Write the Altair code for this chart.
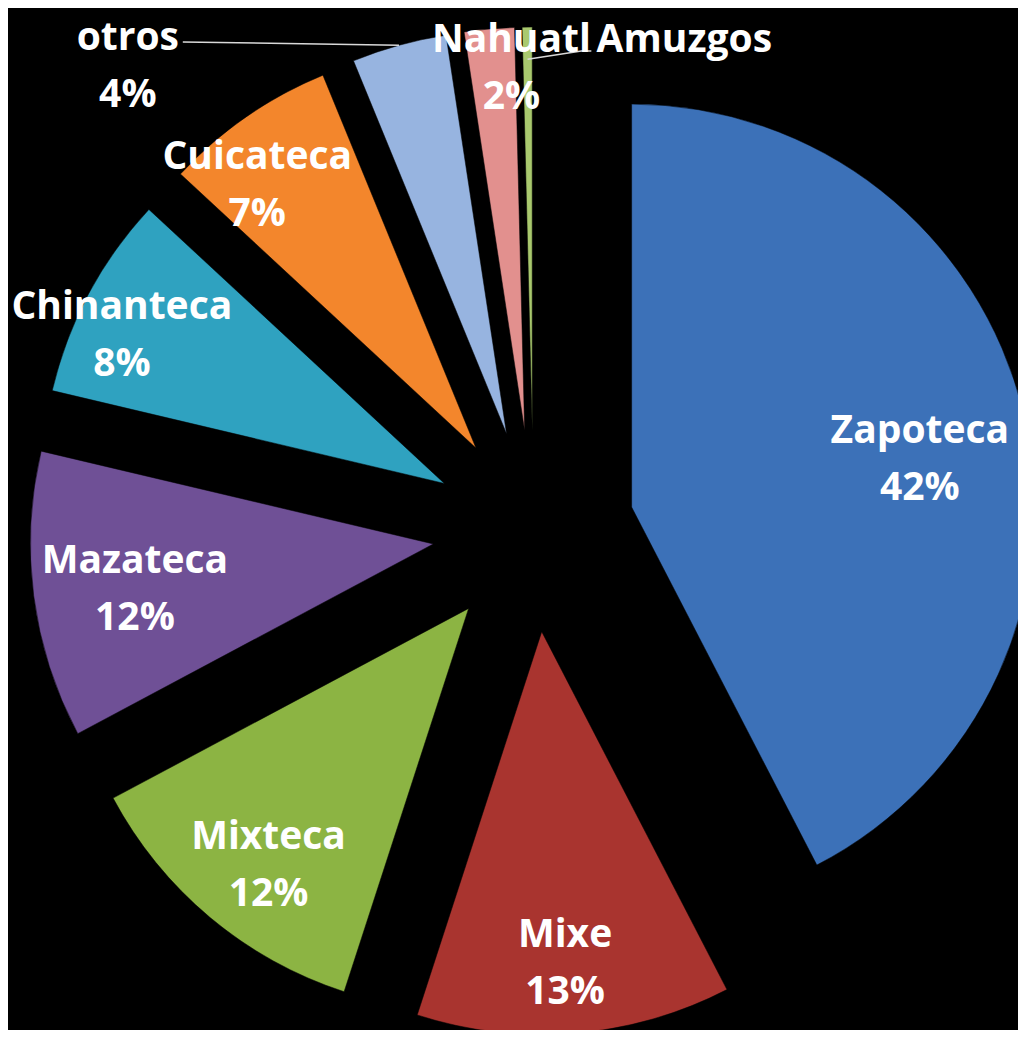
import math
import altair as alt
import pandas as pd

# ---------------- data ----------------
categories = ["Zapoteca", "Mixe", "Mixteca", "Mazateca", "Chinanteca",
              "Cuicateca", "otros", "Nahuatl", "Amuzgos"]
shares = [42.4, 12.6, 12.2, 11.5, 8.2, 6.9, 3.8, 2.0, 0.4]
colors = ["#3C71B8", "#A9342F", "#8CB443", "#6F5096", "#2FA2C0",
          "#F3862C", "#97B4E0", "#E2908E", "#A9C96E"]

# ---------------- layout / style ----------------
W, H = 1010, 1022
CX, CY = 533.5, 531.0      # pie centre (page px)
R = 403                    # pie radius
EXPLODE = 101              # explosion distance
LABEL_R = 310              # label distance from slice apex
FONT = "Open Sans"
FONT_SIZE = 39
LINE_H = 57
label_nudge = {
    "Zapoteca": (-13, 26), "Mixe": (-2, 23), "Mixteca": (-1, 19),
    "Mazateca": (9, 6), "Chinanteca": (-49, -2), "Cuicateca": (-42, -8),
    "otros": (-296, -68), "Nahuatl": (14, -53), "Amuzgos": (156, -80),
}
hidden_pct = {"Amuzgos"}
leader_cats = {"otros": [(55, -25)], "Amuzgos": [(-103, 11), (-93, 11)]}
leader_start_r = {"otros": 1.0, "Amuzgos": 0.92}

# ---------------- build tables ----------------
rows = []
cum = 0.0
total = sum(shares)
for cat, s in zip(categories, shares):
    start = cum / total * 100
    cum += s
    end = cum / total * 100
    mid = (start + end) / 2 / 100 * 2 * math.pi
    dx, dy = math.sin(mid), -math.cos(mid)
    ax, ay = CX + EXPLODE * dx, CY + EXPLODE * dy
    nx, ny = label_nudge[cat]
    lx, ly = ax + LABEL_R * dx + nx, ay + LABEL_R * dy + ny
    pct = int(s / total * 100 + 0.5)
    label = cat if cat in hidden_pct else f"{cat}\n{pct}%"
    nlines = label.count("\n") + 1
    ty = ly - (nlines - 1) * LINE_H / 2
    rows.append(dict(cat=cat, start=start, end=end, cx=ax, cy=ay,
                     lx=lx, ly=ly, ty=ty, label=label, dx=dx, dy=dy))
df = pd.DataFrame(rows)

lead = []
for r in rows:
    if r["cat"] in leader_cats:
        k = leader_start_r[r["cat"]]
        lead.append(dict(cat=r["cat"], o=0, px=r["cx"] + R * k * r["dx"],
                         py=r["cy"] + R * k * r["dy"]))
        for i, (ox, oy) in enumerate(leader_cats[r["cat"]]):
            lead.append(dict(cat=r["cat"], o=i + 1, px=r["lx"] + ox, py=r["ly"] + oy))
lead_df = pd.DataFrame(lead)

xs = alt.Scale(domain=[8, 8 + W], nice=False, zero=False)
ys = alt.Scale(domain=[8, 8 + H], nice=False, zero=False, reverse=True)

arcs = alt.Chart(df).mark_arc(radius=R, stroke="#000000", strokeWidth=0.5).encode(
    x=alt.X("cx:Q", scale=xs, axis=None),
    y=alt.Y("cy:Q", scale=ys, axis=None),
    theta=alt.Theta("start:Q", scale=alt.Scale(domain=[0, 100], range=[0, 2 * math.pi])),
    theta2="end:Q",
    color=alt.Color("cat:N", scale=alt.Scale(domain=categories, range=colors), legend=None),
)

leaders = alt.Chart(lead_df).mark_line(color="#D9D9D9", strokeWidth=1.5).encode(
    x=alt.X("px:Q", scale=xs, axis=None),
    y=alt.Y("py:Q", scale=ys, axis=None),
    detail="cat:N",
    order="o:Q",
)

labels = alt.Chart(df).mark_text(
    font=FONT, fontSize=FONT_SIZE, fontWeight="bold", color="white",
    lineBreak="\n", lineHeight=LINE_H, align="center", baseline="middle",
).encode(
    x=alt.X("lx:Q", scale=xs, axis=None),
    y=alt.Y("ty:Q", scale=ys, axis=None),
    text="label:N",
)

chart = alt.layer(arcs, leaders, labels).properties(
    width=W, height=H, padding=0, background="#000000",
    autosize=alt.AutoSizeParams(type="none"),
).configure_view(stroke=None)

chart.save("out.html", embed_options={"renderer": "svg", "actions": False})
